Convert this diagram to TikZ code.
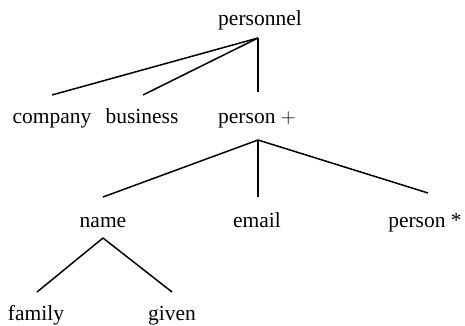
\documentclass[tikz,border=0pt]{standalone}
\usepackage{fontspec}
\setmainfont{Liberation Serif}
\begin{document}
\begin{tikzpicture}[x=1pt,y=-1pt,
  lbl/.style={anchor=base,inner sep=0pt,font=\fontsize{21.5}{26}\selectfont},
  edge/.style={line width=1.5pt}]
\useasboundingbox (0,0) rectangle (465,326);
% labels
\node[lbl] (personnel) at (260,26) {personnel};
\node[lbl] (company) at (52,123) {company};
\node[lbl] (business) at (142,123) {business};
\node[lbl] (person) at (257,123) {person $+$};
\node[lbl] (name) at (103,227) {name};
\node[lbl] (email) at (257,227) {email};
\node[lbl] (personstar) at (425,227) {person *};
\node[lbl] (family) at (36,320) {family};
\node[lbl] (given) at (172,320) {given};
% connector end points
\coordinate (personnel-b) at (258,38);
\coordinate (company-t) at (52,95);
\coordinate (business-t) at (143,95);
\coordinate (person-t) at (258,92);
\coordinate (person-b) at (258,140);
\coordinate (name-t) at (103,197);
\coordinate (email-t) at (258,197);
\coordinate (personstar-t) at (428,193);
\coordinate (name-b) at (103,238);
\coordinate (family-t) at (37,292);
\coordinate (given-t) at (172,292);
% connectors
\draw[edge] (personnel-b) -- (company-t);
\draw[edge] (personnel-b) -- (business-t);
\draw[edge] (personnel-b) -- (person-t);
\draw[edge] (person-b) -- (name-t);
\draw[edge] (person-b) -- (email-t);
\draw[edge] (person-b) -- (personstar-t);
\draw[edge] (name-b) -- (family-t);
\draw[edge] (name-b) -- (given-t);
\end{tikzpicture}
\end{document}
